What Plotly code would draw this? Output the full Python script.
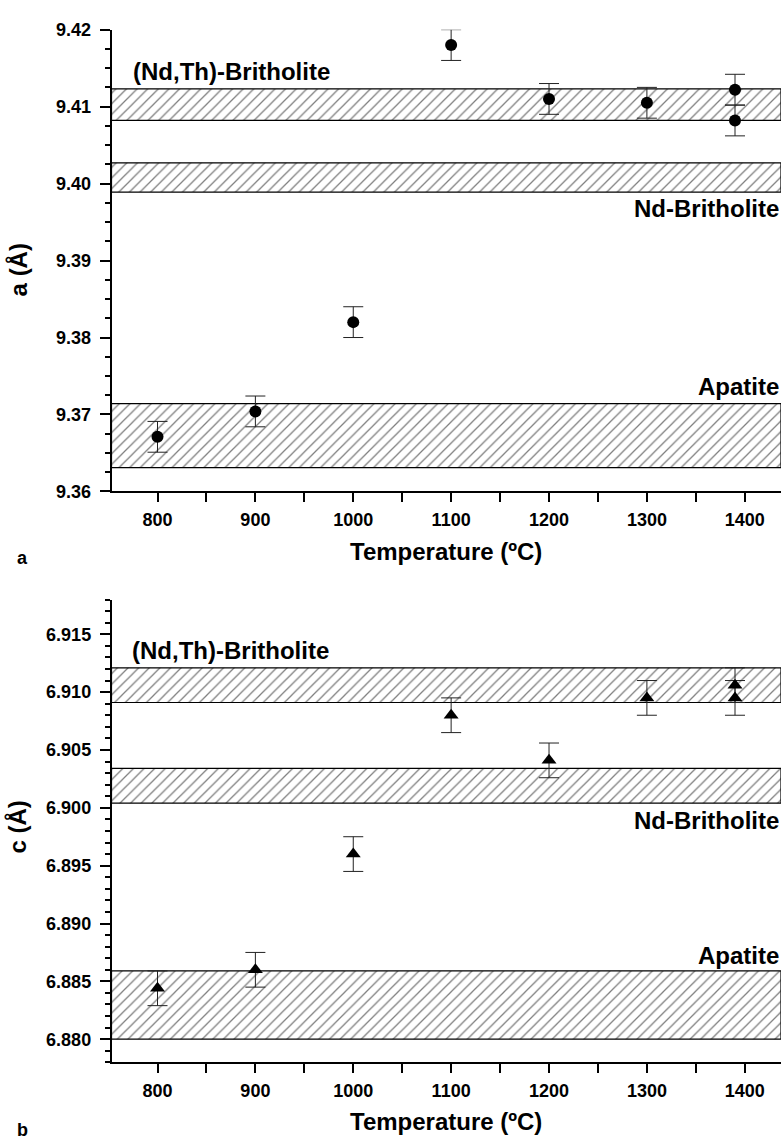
import plotly.graph_objects as go

# ---------------- data ----------------
temps_a = [800, 900, 1000, 1100, 1200, 1300, 1390, 1390]
a_vals = [9.3671, 9.3704, 9.3820, 9.4180, 9.4110, 9.4105, 9.4122, 9.4082]
a_err = [0.0020, 0.0020, 0.0020, 0.0020, 0.0020, 0.0020, 0.0020, 0.0020]

temps_c = [800, 900, 1000, 1100, 1200, 1300, 1390, 1390]
c_vals = [6.8844, 6.8860, 6.8960, 6.9080, 6.9041, 6.9095, 6.9106, 6.9095]
c_err = [0.0015, 0.0015, 0.0015, 0.0015, 0.0015, 0.0015, 0.0015, 0.0015]

band_names = ["(Nd,Th)-Britholite", "Nd-Britholite", "Apatite"]
a_band_lo = [9.4082, 9.3989, 9.3631]
a_band_hi = [9.4123, 9.4027, 9.3714]
c_band_lo = [6.9091, 6.9004, 6.8800]
c_band_hi = [6.9121, 6.9034, 6.8859]

x_ticks = [800, 900, 1000, 1100, 1200, 1300, 1400]

X_RANGE = [753, 1437]
YA_RANGE = [9.36, 9.42]
YC_RANGE = [6.878, 6.918]

# ---------------- layout geometry ----------------
W, H = 783, 1148
FONT = "Liberation Sans, Arial, Helvetica, sans-serif"

def px_x(p):
    return p / W

def px_y(p):
    return 1 - p / H

x_dom = [px_x(111.5), px_x(781)]
ya_dom = [px_y(490), px_y(20)]
yc_dom = [px_y(1071), px_y(600)]

fig = go.Figure()

def add_bands(lo, hi, xa, ya):
    for l, h in zip(lo, hi):
        fig.add_trace(go.Scatter(
            x=[X_RANGE[0], X_RANGE[1], X_RANGE[1], X_RANGE[0], X_RANGE[0]],
            y=[l, l, h, h, l],
            mode="lines", fill="toself",
            fillcolor="white",
            fillpattern=dict(shape="/", fgcolor="black", bgcolor="white",
                             size=7.5, solidity=0.17),
            line=dict(color="black", width=1.2),
            xaxis=xa, yaxis=ya, showlegend=False, hoverinfo="skip",
        ))

add_bands(a_band_lo, a_band_hi, "x", "y")
add_bands(c_band_lo, c_band_hi, "x2", "y2")

fig.add_trace(go.Scatter(
    x=temps_a, y=a_vals, mode="markers",
    marker=dict(symbol="circle", size=12, color="black"),
    error_y=dict(type="data", array=a_err, visible=True, color="#222222",
                 thickness=1, width=10),
    xaxis="x", yaxis="y", showlegend=False,
))
fig.add_trace(go.Scatter(
    x=temps_c, y=c_vals, mode="markers",
    marker=dict(symbol="triangle-up", size=13, color="black"),
    error_y=dict(type="data", array=c_err, visible=True, color="#222222",
                 thickness=1, width=10),
    xaxis="x2", yaxis="y2", showlegend=False,
))

tickfont = dict(family=FONT, size=18, color="black", weight=700)

xaxis_common = dict(
    domain=x_dom, range=X_RANGE, showline=True, linecolor="black", linewidth=1.5,
    ticks="outside", ticklen=9, tickwidth=1.5, tickcolor="black",
    tickvals=x_ticks, showgrid=False, zeroline=False, tickfont=tickfont,
    minor=dict(ticks="outside", ticklen=9, tickwidth=1.5, tickcolor="black",
               dtick=50, tick0=800, showgrid=False),
    ticklabelstandoff=2,
)

fig.update_layout(
    width=W, height=H, autosize=False,
    margin=dict(l=0, r=0, t=0, b=0),
    paper_bgcolor="white", plot_bgcolor="white",
    xaxis=dict(anchor="y", **xaxis_common),
    xaxis2=dict(anchor="y2", **xaxis_common),
    yaxis=dict(
        domain=ya_dom, range=YA_RANGE, anchor="x", showline=True, linecolor="black",
        linewidth=1.5, ticks="outside", ticklen=10, tickwidth=1.5, tickcolor="black",
        dtick=0.01, tick0=9.36, tickformat=".2f", showgrid=False, zeroline=False,
        tickfont=tickfont, ticklabelstandoff=5,
        minor=dict(ticks="outside", ticklen=5, tickwidth=1.5, tickcolor="black",
                   dtick=0.0025, showgrid=False),
    ),
    yaxis2=dict(
        domain=yc_dom, range=YC_RANGE, anchor="x2", showline=True, linecolor="black",
        linewidth=1.5, ticks="outside", ticklen=10, tickwidth=1.5, tickcolor="black",
        dtick=0.005, tick0=6.88, tickformat=".3f", showgrid=False, zeroline=False,
        tickfont=tickfont, ticklabelstandoff=5,
        minor=dict(ticks="outside", ticklen=5, tickwidth=1.5, tickcolor="black",
                   dtick=0.001, showgrid=False),
    ),
)

lab_font = dict(family=FONT, size=24, color="black", weight=700)
small_font = dict(family=FONT, size=18, color="black", weight=700)

def ann(text, x, y, xanchor="center", font=lab_font, angle=0):
    fig.add_annotation(text=text, x=px_x(x), y=px_y(y), xref="paper", yref="paper",
                       xanchor=xanchor, yanchor="middle", showarrow=False,
                       font=font, textangle=angle)

# band labels top
ann(band_names[0], 130.5, 63, "left")
ann(band_names[1], 781, 202, "right")
ann(band_names[2], 781, 383, "right")
# band labels bottom
ann(band_names[0], 130, 652, "left")
ann(band_names[1], 781, 825, "right")
ann(band_names[2], 781, 962, "right")

# axis titles
ann("Temperature (ºC)", 446, 551)
ann("Temperature (ºC)", 446, 1131)
ann("a (Å)", 18, 265, angle=-90)
ann("c (Å)", 18, 832, angle=-90)
# panel letters
ann("a", 22, 558, font=small_font)
ann("b", 22, 1140, font=small_font)

fig.write_html("out.html", config={"displayModeBar": False},
               post_script="document.body.style.margin='0';")
